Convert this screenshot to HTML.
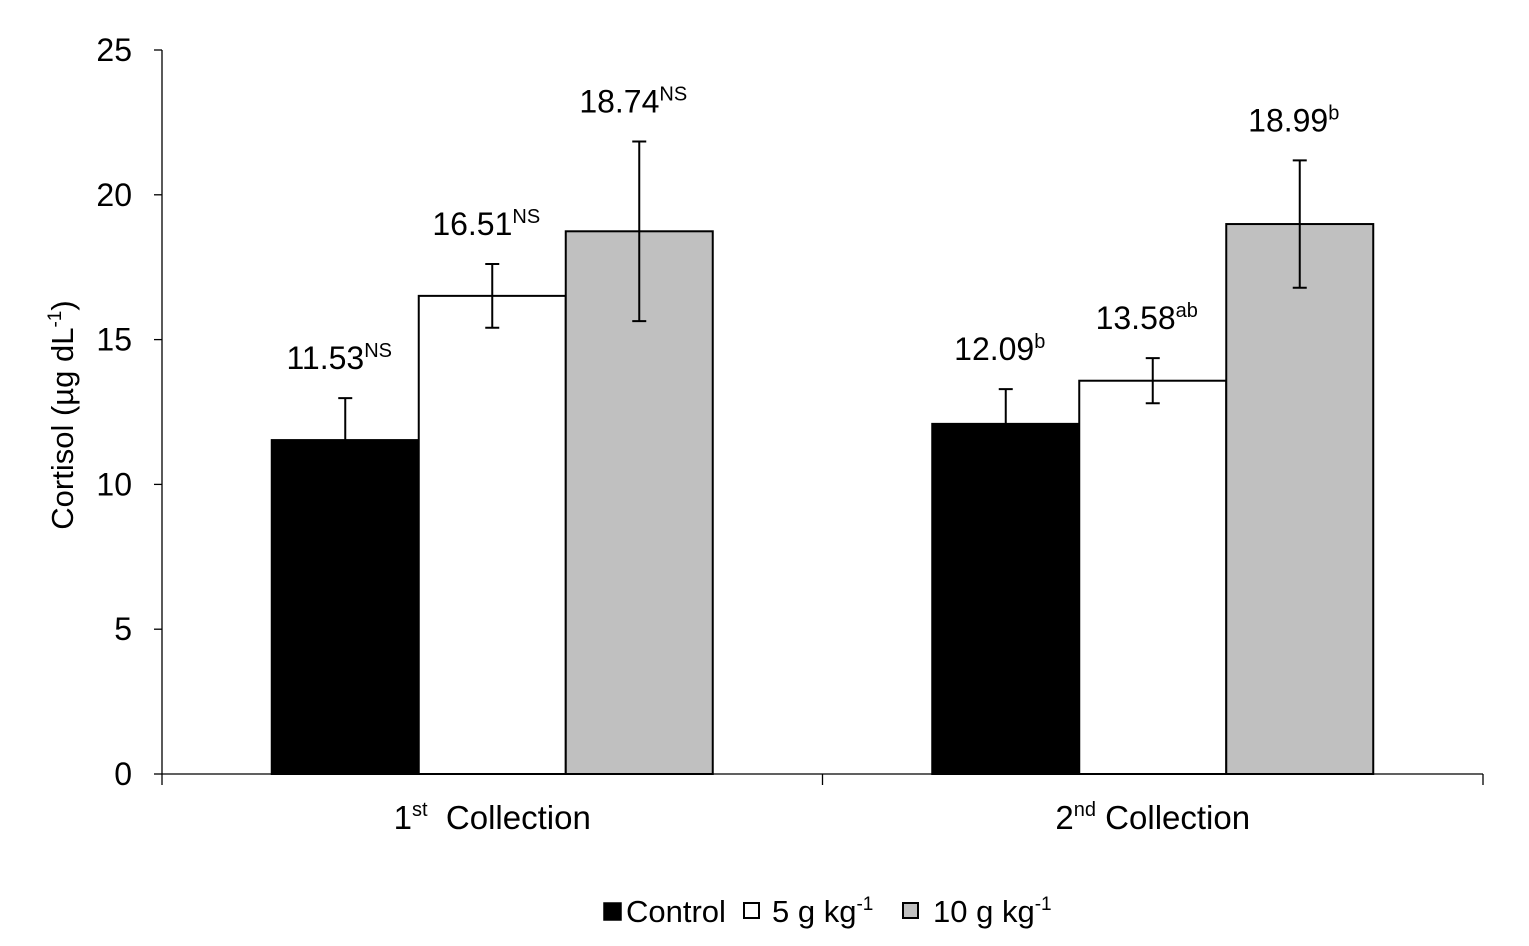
<!DOCTYPE html>
<html><head><meta charset="utf-8"><style>
body{margin:0;background:#fff;}
svg text{font-family:"Liberation Sans",Arial,sans-serif;fill:#000;white-space:pre;}
</style></head><body>
<svg id="chart" width="1529" height="941" viewBox="0 0 1529 941" xmlns="http://www.w3.org/2000/svg">
<g id="axes"></g><g id="bars"></g><g id="labels"></g>
<g>
<rect x="604" y="903" width="17" height="17" fill="#000" stroke="#000" stroke-width="1.5"/>
<text x="626" y="922" font-size="31">Control</text>
<rect x="744" y="903" width="15" height="15" fill="#fff" stroke="#000" stroke-width="2"/>
<text x="772" y="922" font-size="31">5 g kg<tspan dy="-12" font-size="19">-1</tspan></text>
<rect x="903" y="903" width="15" height="15" fill="#c0c0c0" stroke="#000" stroke-width="2"/>
<text x="933" y="922" font-size="31">10 g kg<tspan dy="-12" font-size="19">-1</tspan></text>
</g>
</svg>
<script>
const categories=["1st Collection","2nd Collection"];
const controlVals=[11.53,12.09];
const g5Vals=[16.51,13.58];
const g10Vals=[18.74,18.99];
const controlErr=[1.45,1.2];
const g5Err=[1.1,0.78];
const g10Err=[3.1,2.2];
const controlSig=["NS","b"];
const g5Sig=["NS","ab"];
const g10Sig=["NS","b"];
const yTicks=[0,5,10,15,20,25];

const NS="http://www.w3.org/2000/svg";
const x0=162,x1=1483,yBase=774,yTop=50,yMax=25;
const y=v=>yBase-(v/yMax)*(yBase-yTop);
const catW=(x1-x0)/categories.length;
function mk(p,t,a){const e=document.createElementNS(NS,t);for(const k in a)e.setAttribute(k,a[k]);p.appendChild(e);return e;}
const axes=document.getElementById('axes'),bars=document.getElementById('bars'),labels=document.getElementById('labels');
let e=mk(axes,'line',{x1:x0,y1:yTop,x2:x0,y2:yBase,stroke:'#000','stroke-width':1.3});


e=mk(axes,'line',{x1:x0,y1:yBase,x2:x1,y2:yBase,stroke:'#000','stroke-width':1.3});


yTicks.forEach(t=>{
  mk(axes,'line',{x1:x0-8,y1:y(t),x2:x0,y2:y(t),stroke:'#000','stroke-width':1.3});
  const tx=mk(axes,'text',{x:x0-30,y:y(t)+11,'font-size':32,'text-anchor':'end'});
  tx.textContent=t;
  
  
});
for(let i=0;i<=categories.length;i++){mk(axes,'line',{x1:x0+i*catW,y1:yBase,x2:x0+i*catW,y2:yBase+11,stroke:'#000','stroke-width':1.3});}
const yt=mk(axes,'text',{transform:'translate(73,415) rotate(-90)','font-size':31,'text-anchor':'middle'});
yt.innerHTML='Cortisol (µg dL<tspan dy="-12" font-size="19">-1</tspan><tspan dy="12">)</tspan>';


const sups=["st","nd"],nums=["1","2"];
categories.forEach((c,i)=>{
  const cx=x0+catW*i+catW/2;
  const t=mk(labels,'text',{x:cx,y:829,'font-size':33,'text-anchor':'middle'});
  t.innerHTML=nums[i]+'<tspan dy="-13" font-size="20">'+sups[i]+'</tspan><tspan dy="13">'+(i==0?'\u00a0\u00a0':'\u00a0')+'Collection</tspan>';
  
  
});
const series=[[controlVals,controlErr,controlSig,'#000','control'],[g5Vals,g5Err,g5Sig,'#fff','5g'],[g10Vals,g10Err,g10Sig,'#c0c0c0','10g']];
const bw=147;
categories.forEach((c,i)=>{
  const start=x0+catW*i+catW/2-bw*1.5;
  series.forEach((s,j)=>{
    const v=s[0][i],er=s[1][i],bx=start+j*bw;
    const r=mk(bars,'rect',{x:bx,y:y(v),width:bw,height:yBase-y(v),fill:s[3],stroke:'#000','stroke-width':2});
    
    
    const mx=bx+bw/2;
    const eb=mk(bars,'path',{d:`M${mx},${y(v+er)}V${y(v-er)}M${mx-7},${y(v+er)}H${mx+7}M${mx-7},${y(v-er)}H${mx+7}`,stroke:'#000','stroke-width':2,fill:'none'});
    
    
    const lt=mk(labels,'text',{x:mx-6,y:y(v+er)-29,'font-size':32,'text-anchor':'middle'});
    lt.innerHTML=v.toFixed(2)+'<tspan dy="-12" font-size="20">'+s[2][i]+'</tspan>';
    
    
  });
});
</script>
</body></html>
